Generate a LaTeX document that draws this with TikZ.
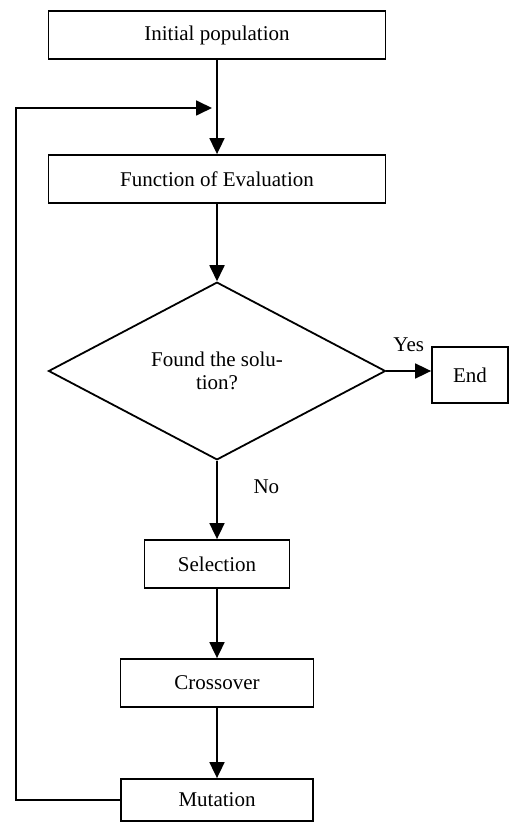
\documentclass[tikz,border=0pt]{standalone}
\usepackage{fontspec}
\setmainfont{Liberation Serif}
\usepackage{tikz}
\usetikzlibrary{shapes.geometric,arrows.meta}

\begin{document}
\begin{tikzpicture}[x=0.5pt,y=-0.5pt,font=\fontsize{10.5pt}{11.5pt}\selectfont]
                      \tikzstyle{box}=[rectangle,draw=black,line width=0.9pt,inner sep=2pt,minimum height=24pt]
                      \tikzstyle{decision}=[diamond,draw=black,line width=0.9pt,align=center,inner sep=1pt,minimum width=168.5pt,minimum height=72pt]
                      \tikzstyle{flow}=[line width=0.9pt,-{Triangle[length=8pt,width=7.5pt]}]
                      \useasboundingbox (0,0) rectangle (509,823);
                      \node[box,minimum width=168.5pt] (init) at (217,35) {Initial population};
                      \node[box,minimum width=168.5pt] (eval) at (217,179) {Function of Evaluation};
                      \node[decision] (found) at (217,371) {Found the solu-\\tion?};
                      \node[box,minimum width=38pt,minimum height=28pt] (endn) at (470,375) {End};
                      \node[box,minimum width=72.5pt] (sel) at (217,564) {Selection};
                      \node[box,minimum width=96.5pt] (cross) at (217,683) {Crossover};
                      \node[box,minimum width=96pt,minimum height=21pt] (mut) at (217,800) {Mutation};
                      \coordinate (join) at (212,108);
                      \draw[flow] (init) -- (eval);
                      \draw[flow] (eval) -- (found);
                      \draw[flow] (found.east) -- (found.east -| endn.west) node [midway, above=6pt] {Yes};
                      \draw[flow] (found) -- (sel) node [pos=0.33, right=14.5pt] {No};
                      \draw[flow] (sel) -- (cross);
                      \draw[flow] (cross) -- (mut);
                      \draw[flow] (mut.west) -- (16,800) |- (join);
                  \end{tikzpicture}
\end{document}
